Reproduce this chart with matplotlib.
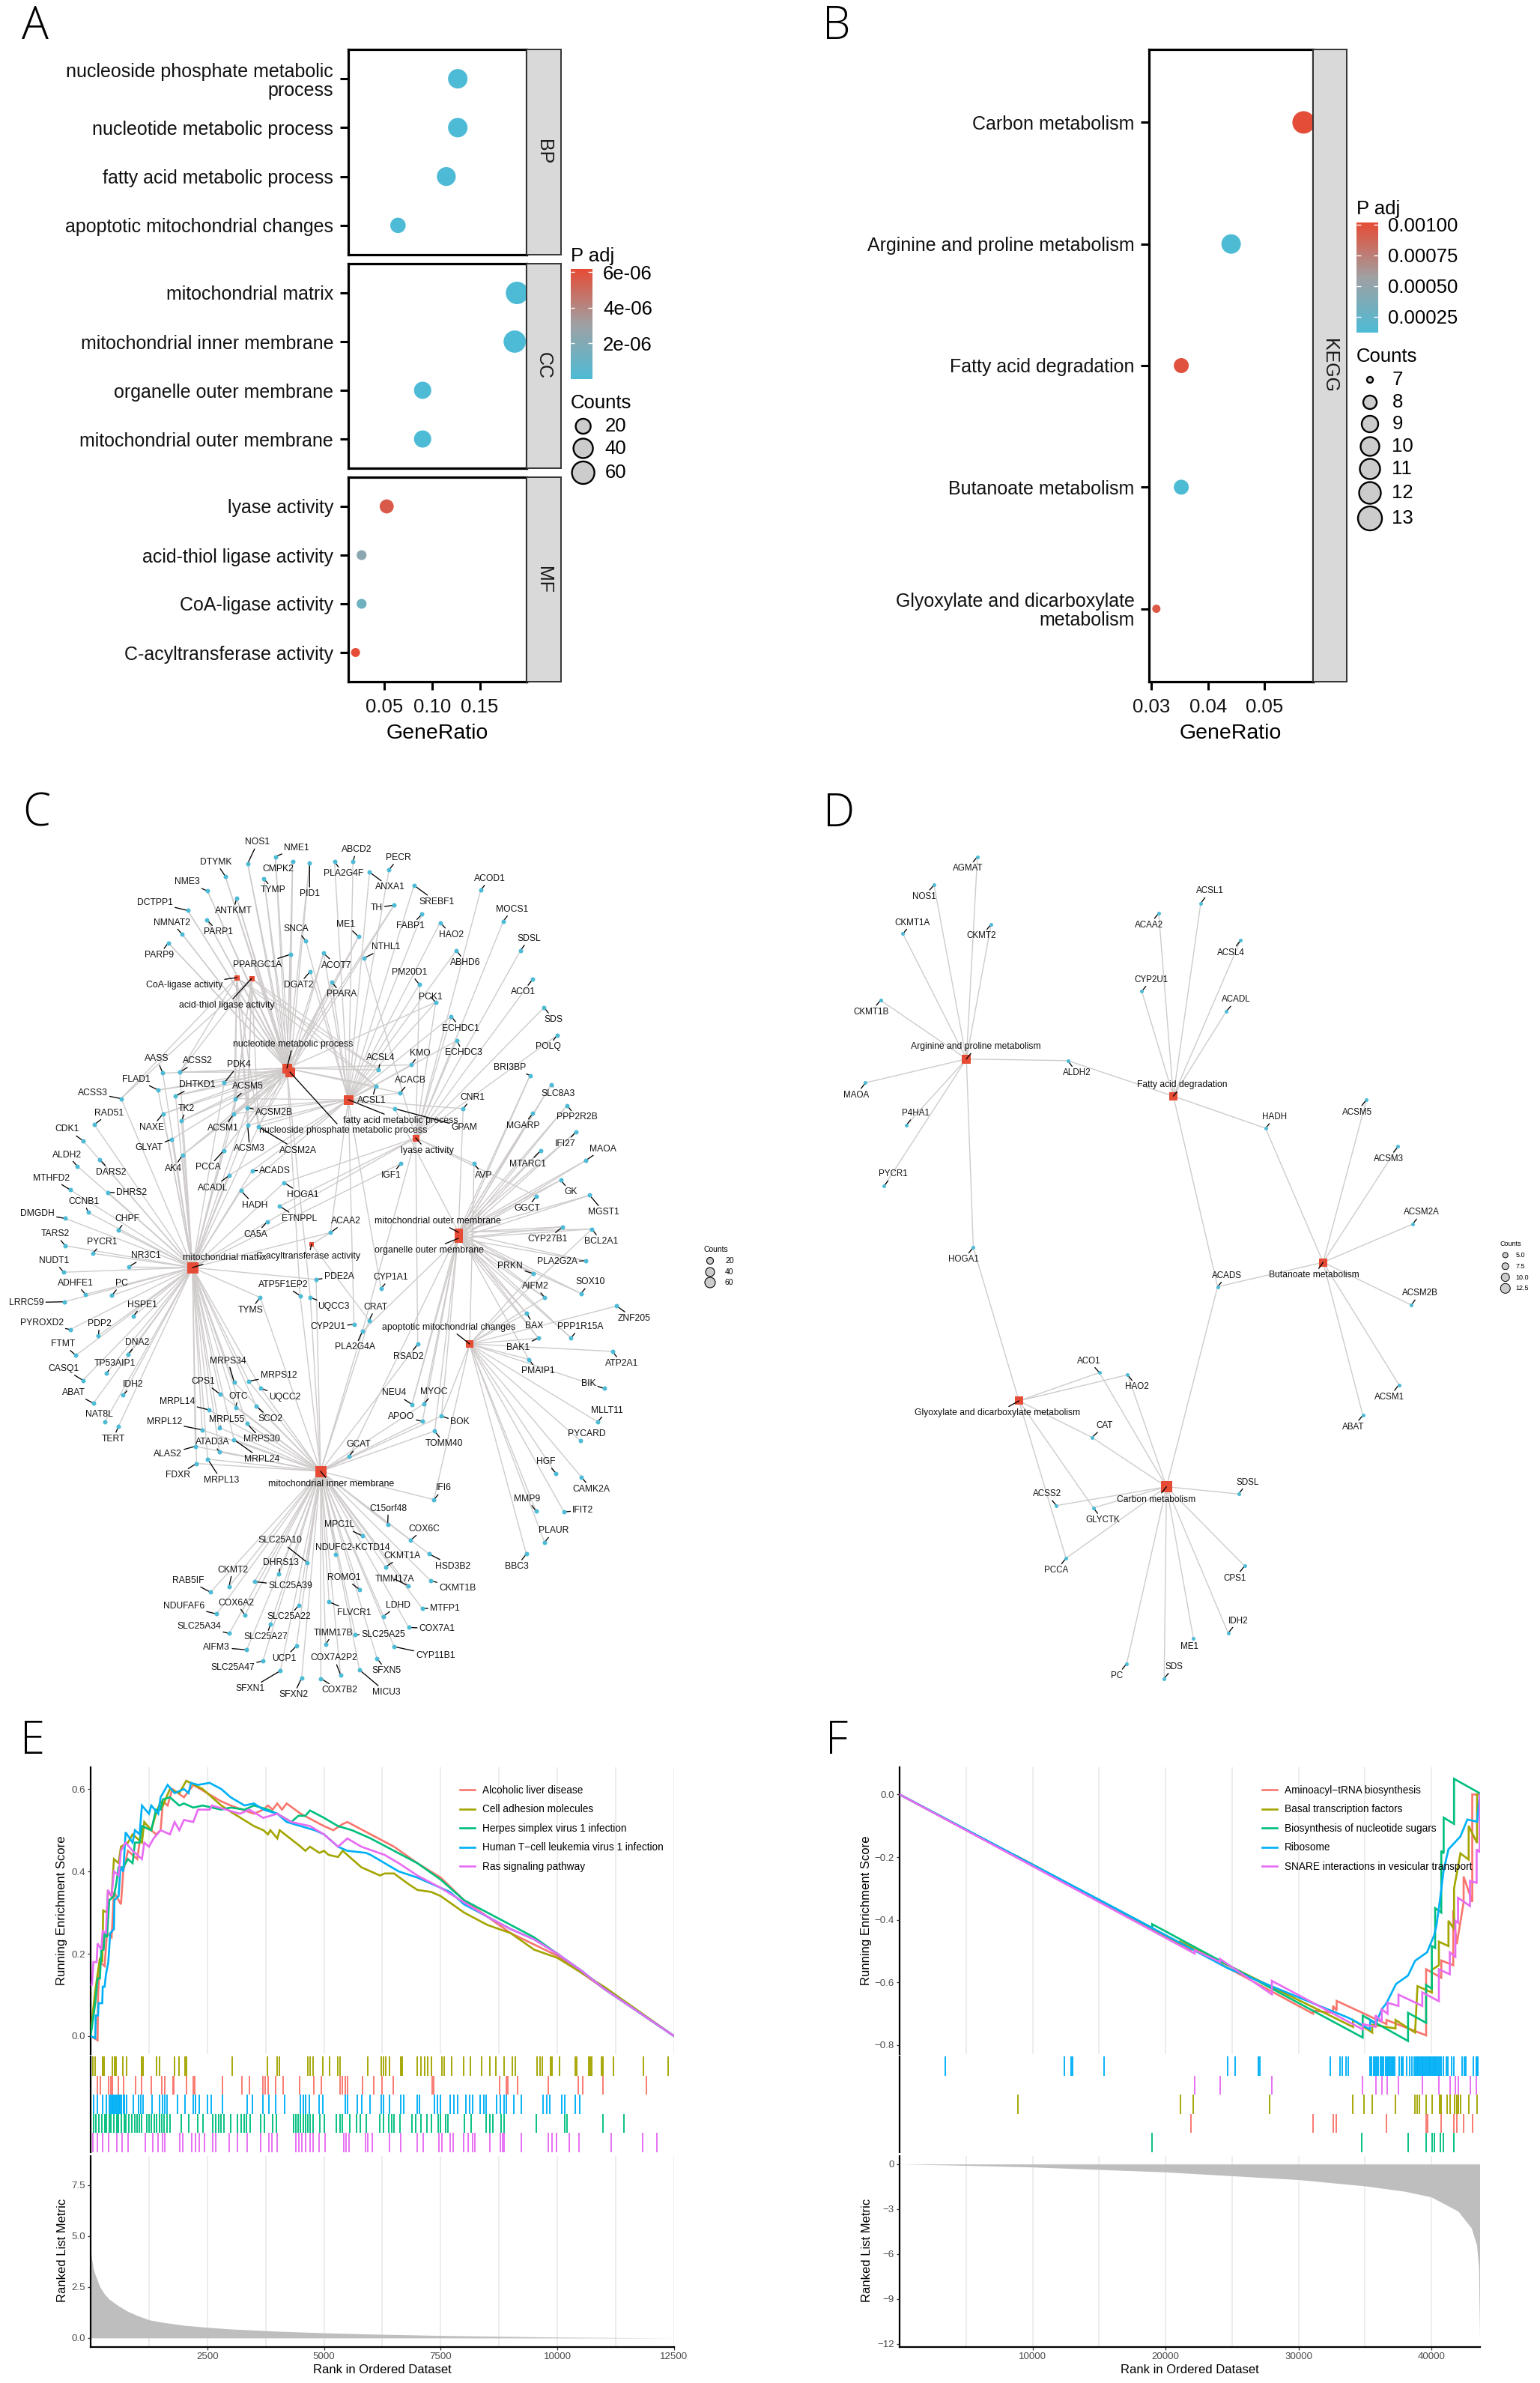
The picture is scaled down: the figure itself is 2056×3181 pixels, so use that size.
import numpy as np
import matplotlib
matplotlib.use('Agg')
import matplotlib.pyplot as plt
from matplotlib import font_manager
from matplotlib.cm import ScalarMappable
from matplotlib.collections import LineCollection
from matplotlib.colors import LinearSegmentedColormap, Normalize

plt.rcParams['font.family'] = ['Liberation Sans', 'DejaVu Sans']

W, H = 2056, 3181
BLUE, RED = '#4DBBD5', '#E64B35'
EDGE = '#CFCBCB'

# ---- A: GO dot plot
a_bp = ['nucleoside phosphate metabolic\nprocess', 'nucleotide metabolic process',
        'fatty acid metabolic process', 'apoptotic mitochondrial changes']
a_bp_ratio = [0.127, 0.127, 0.115, 0.0644]
a_bp_count = [43, 43, 39, 22]
a_bp_p = [1e-8, 1e-8, 1e-8, 1e-8]
a_cc = ['mitochondrial matrix', 'mitochondrial inner membrane',
        'organelle outer membrane', 'mitochondrial outer membrane']
a_cc_ratio = [0.189, 0.1866, 0.0902, 0.0902]
a_cc_count = [65, 64, 31, 31]
a_cc_p = [1e-8, 1e-8, 1e-8, 1e-8]
a_mf = ['lyase activity', 'acid-thiol ligase activity', 'CoA-ligase activity', 'C-acyltransferase activity']
a_mf_ratio = [0.0526, 0.0263, 0.0263, 0.020]
a_mf_count = [18, 9, 9, 7]
a_mf_p = [5.6e-6, 2.3e-6, 1.3e-6, 6.1e-6]

# ---- B: KEGG dot plot
b_terms = ['Carbon metabolism', 'Arginine and proline metabolism', 'Fatty acid degradation',
           'Butanoate metabolism', 'Glyoxylate and dicarboxylate\nmetabolism']
b_ratio = [0.0569, 0.0441, 0.0353, 0.0353, 0.0309]
b_count = [13, 10, 8, 8, 7]
b_p = [0.00100, 0.00013, 0.00098, 0.00013, 0.00095]

# ---- C: network, node and label places read off crops of the picture
# (name, x, y, label x, label y, terms)
ALLCOA = 'nuc nsp fa coa thi mm'
c_tile_nw = [
    ('NOS1', 992, 190, 1032, 116, 'nuc nsp'), ('NME1', 1103, 166, 1188, 135, 'nuc nsp'),
    ('CMPK2', 1172, 183, 1113, 208, 'nuc nsp'), ('DTYMK', 902, 234, 865, 185, 'nuc nsp'),
    ('NME3', 831, 286, 749, 254, 'nuc nsp'), ('DCTPP1', 752, 354, 621, 326, 'nuc nsp'),
    ('NMNAT2', 730, 437, 688, 396, 'nuc nsp'), ('PARP9', 674, 467, 637, 509, 'nuc nsp'),
    ('PARP1', 828, 386, 875, 429, 'nuc nsp'), ('TYMP', 1057, 243, 1095, 283, 'nuc nsp'),
    ('ANTKMT', 948, 310, 935, 355, 'nuc nsp'), ('PID1', 1240, 188, 1240, 295, 'nuc nsp'),
    ('ABCD2', 1414, 182, 1428, 142, 'fa'), ('PLA2G4F', 1340, 184, 1375, 225, 'fa'),
    ('SNCA', 1225, 460, 1187, 419, 'fa'), ('PPARGC1A', 1163, 507, 1032, 544, 'nuc nsp'),
    ('ME1', 1436, 445, 1385, 402, 'nuc nsp'), ('ACOT7', 1296, 503, 1348, 545, 'nuc nsp fa'),
    ('DGAT2', 1243, 566, 1195, 614, 'fa'), ('PPARA', 1329, 604, 1369, 646, 'nuc nsp fa'),
    ('AASS', 652, 921, 628, 871, 'nuc mm'), ('ACSS2', 720, 918, 791, 878, 'nuc nsp coa thi mm'),
    ('FLAD1', 633, 980, 545, 942, 'nuc nsp mm'), ('DHTKD1', 703, 1000, 791, 962, 'nuc nsp mm'),
    ('PDK4', 898, 955, 956, 892, 'nuc mm'), ('ACSS3', 485, 1010, 371, 990, 'coa thi mm'),
    ('ACSM5', 943, 1010, 994, 968, ALLCOA), ('ACSM2B', 991, 1042, 1099, 1059, ALLCOA),
    ('ACSM1', 937, 1063, 895, 1114, ALLCOA), ('ACSM3', 992, 1103, 1000, 1184, ALLCOA),
    ('ACSM2A', 1035, 1108, 1193, 1191, ALLCOA), ('TK2', 727, 1088, 747, 1044, 'nuc nsp mm'),
    ('NAXE', 653, 1063, 608, 1110, 'nuc nsp mm'), ('GLYAT', 688, 1152, 597, 1182, 'nuc mm'),
    ('AK4', 731, 1207, 695, 1254, 'nuc nsp mm'), ('RAD51', 378, 1101, 437, 1060, 'mm'),
    ('CDK1', 334, 1158, 270, 1117, 'mm'), ('ALDH2', 310, 1246, 269, 1206, 'mm'),
    ('DARS2', 400, 1223, 446, 1266, 'mm'), ('MTHFD2', 281, 1328, 205, 1287, 'mm'),
    ('DHRS2', 433, 1337, 528, 1339, 'mm'), ('CCNB1', 353, 1407, 336, 1369, 'mm'),
    ('CHPF', 473, 1469, 510, 1429, 'mm'), ('DMGDH', 262, 1428, 150, 1411, 'mm'),
    ('TARS2', 261, 1523, 223, 1482, 'mm'), ('PYCR1', 372, 1550, 409, 1511, 'mm'),
    ('PCCA', 896, 1191, 835, 1250, 'nuc mm'), ('ACADL', 919, 1277, 853, 1321, 'fa mm'),
    ('ACADS', 1010, 1261, 1102, 1261, 'fa mm'), ('HADH', 965, 1331, 1020, 1382, 'fa mm'),
    ('HOGA1', 1138, 1303, 1212, 1345, 'ly mm'), ('ETNPPL', 1120, 1385, 1198, 1429, 'ly'),
    ('CA5A', 1070, 1440, 1025, 1483, 'ly mm'), ('ACAA2', 1324, 1477, 1387, 1437, 'ca mm fa'),
]
c_tile_ne = [
    ('PECR', 118, 212, 157, 170, 'fa'), ('ANXA1', 40, 220, 122, 273, 'fa'),
    ('TH', 139, 335, 68, 344, 'nuc nsp'), ('SREBF1', 218, 266, 308, 323, 'fa'),
    ('FABP1', 250, 367, 204, 408, 'fa'), ('HAO2', 323, 396, 368, 438, 'fa'),
    ('NTHL1', 18, 520, 106, 481, 'ly'), ('ACOD1', 485, 283, 522, 243, 'ly'),
    ('MOCS1', 576, 391, 612, 350, 'ly'), ('SDSL', 644, 494, 680, 452, 'ly'),
    ('ACO1', 694, 593, 655, 637, 'ly'), ('SDS', 739, 692, 777, 734, 'ly'),
    ('POLQ', 793, 788, 755, 829, 'ly'), ('ABHD6', 388, 493, 425, 536, 'fa'),
    ('PM20D1', 240, 612, 201, 570, 'fa ly'), ('PCK1', 305, 674, 285, 655, 'ly fa nuc'),
    ('ECHDC1', 367, 723, 405, 765, 'ly fa'), ('ECHDC3', 389, 808, 417, 850, 'ly fa'),
    ('ACSL4', 76, 910, 86, 868, 'nuc fa coa thi'), ('ACSL1', 65, 966, 48, 1017, 'nuc fa coa thi'),
    ('KMO', 207, 892, 243, 851, 'nuc fa'), ('ACACB', 162, 990, 205, 947, 'nuc fa'),
    ('CNR1', 415, 1045, 452, 1006, 'fa mom'), ('GPAM', 141, 1045, 420, 1110, 'fa mom'),
    ('IGF1', 166, 1236, 126, 1278, 'mm'), ('AVP', 459, 1237, 496, 1279, 'ly apo'),
    ('BRI3BP', 683, 929, 603, 901, 'mom oom'), ('SLC8A3', 768, 961, 795, 992, 'mom oom'),
    ('MGARP', 694, 1062, 655, 1104, 'mom oom'), ('PPP2R2B', 831, 1034, 870, 1075, 'mom oom'),
    ('IFI27', 866, 1127, 823, 1167, 'mom oom'), ('MTARC1', 726, 1191, 673, 1238, 'mom oom'),
    ('MAOA', 907, 1225, 975, 1185, 'mom oom'), ('GK', 806, 1294, 845, 1336, 'mom oom'),
    ('GGCT', 708, 1350, 671, 1393, 'ly'), ('MGST1', 922, 1347, 979, 1406, 'mom oom'),
    ('CYP27B1', 814, 1457, 752, 1500, 'mom oom'), ('BCL2A1', 931, 1465, 968, 1508, 'mom oom apo'),
]
c_tile_sw = [
    ('NUDT1', 255, 100, 216, 60, 'mm'), ('NR3C1', 515, 82, 586, 42, 'mm'),
    ('ADHFE1', 342, 177, 304, 138, 'mm'), ('PC', 448, 181, 487, 139, 'mm'),
    ('LRRC59', 258, 203, 106, 206, 'mm'), ('HSPE1', 533, 254, 571, 213, 'mm'),
    ('PYROXD2', 281, 300, 167, 278, 'mm'), ('PDP2', 394, 321, 399, 279, 'mm'),
    ('FTMT', 304, 390, 251, 350, 'mm'), ('DNA2', 512, 387, 551, 346, 'mm'),
    ('CASQ1', 332, 477, 256, 436, 'mm'), ('TP53AIP1', 425, 453, 459, 419, 'mm'),
    ('ABAT', 374, 557, 294, 520, 'mm'), ('IDH2', 493, 529, 532, 491, 'mm'),
    ('NAT8L', 420, 621, 397, 597, 'mm'), ('TERT', 475, 637, 453, 681, 'mm'),
    ('MRPS34', 938, 484, 913, 409, 'mm imm'), ('MRPS12', 996, 480, 1116, 461, 'mm imm'),
    ('UQCC2', 1045, 505, 1142, 536, 'mm imm'), ('CPS1', 881, 525, 815, 481, 'mm imm'),
    ('OTC', 944, 571, 955, 532, 'mm imm'), ('MRPL14', 836, 580, 711, 552, 'mm imm'),
    ('SCO2', 1027, 568, 1084, 611, 'mm imm'), ('MRPL55', 878, 642, 908, 613, 'mm imm'),
    ('MRPS30', 989, 628, 1048, 683, 'mm imm'), ('MRPL12', 810, 650, 658, 623, 'mm imm'),
    ('ATAD3A', 879, 727, 851, 693, 'mm imm'), ('MRPL24', 937, 684, 1048, 752, 'mm imm'),
    ('ALAS2', 782, 707, 672, 734, 'mm imm'), ('FDXR', 787, 767, 712, 808, 'mm imm'),
    ('MRPL13', 832, 752, 886, 825, 'mm imm'), ('TYMS', 1042, 188, 1003, 232, 'mm imm'),
    ('ATP5F1EP2', 1202, 182, 1135, 143, 'imm nuc'), ('PDE2A', 1266, 125, 1358, 116, 'mm imm'),
    ('UQCC3', 1243, 188, 1336, 220, 'imm nuc'), ('CYP2U1', 1418, 282, 1313, 291, 'fa'),
    ('PLA2G4A', 1451, 307, 1423, 361, 'ly imm oom'), ('GCAT', 1399, 741, 1436, 701, 'imm mom'),
    ('MPC1L', 1452, 1020, 1361, 981, 'imm'), ('SLC25A10', 1230, 1112, 1120, 1036, 'imm'),
    ('NDUFC2-KCTD14', 1345, 1085, 1413, 1062, 'imm'), ('DHRS13', 1117, 1153, 1124, 1112, 'imm'),
    ('CKMT2', 917, 1197, 932, 1138, 'imm'), ('RAB5IF', 843, 1216, 754, 1175, 'imm'),
    ('SLC25A39', 1019, 1179, 1164, 1194, 'imm'), ('ROMO1', 1439, 1206, 1377, 1165, 'imm'),
    ('COX6A2', 981, 1296, 946, 1253, 'imm'), ('NDUFAF6', 868, 1292, 736, 1264, 'imm'),
    ('SLC25A22', 1196, 1262, 1158, 1302, 'imm'), ('FLVCR1', 1318, 1250, 1418, 1287, 'imm'),
    ('SLC25A34', 918, 1360, 797, 1334, 'imm'), ('SLC25A27', 1084, 1327, 1065, 1372, 'imm'),
    ('TIMM17B', 1304, 1398, 1335, 1358, 'imm'), ('SLC25A25', 1423, 1364, 1535, 1365, 'imm'),
    ('AIFM3', 988, 1417, 868, 1408, 'imm'), ('UCP1', 1187, 1404, 1138, 1447, 'imm'),
    ('SLC25A47', 1053, 1456, 932, 1480, 'imm'), ('COX7A2P2', 1364, 1504, 1338, 1446, 'imm'),
    ('SFXN1', 1123, 1490, 1002, 1553, 'imm'), ('SFXN2', 1208, 1515, 1177, 1573, 'imm'),
    ('COX7B2', 1285, 1517, 1360, 1558, 'imm'), ('MICU3', 1440, 1487, 1546, 1565, 'imm'),
]
c_tile_se = [
    ('CYP1A1', 86, 157, 124, 118, 'fa'), ('CRAT', 38, 268, 65, 222, 'ca imm'),
    ('RSAD2', 233, 351, 195, 394, 'ly imm'), ('PRKN', 695, 105, 604, 78, 'mom oom apo'),
    ('PLA2G2A', 905, 60, 791, 64, 'mom oom'), ('AIFM2', 741, 188, 705, 149, 'mom oom apo'),
    ('SOX10', 887, 174, 925, 134, 'mom oom'), ('ZNF205', 1030, 218, 1099, 261, 'apo'),
    ('BAX', 669, 243, 699, 287, 'mom oom apo'), ('PPP1R15A', 847, 329, 884, 290, 'mom oom'),
    ('BAK1', 716, 330, 636, 362, 'mom oom apo'), ('ATP2A1', 1013, 376, 1050, 418, 'apo'),
    ('PMAIP1', 678, 404, 715, 445, 'apo mom'), ('BIK', 980, 505, 917, 489, 'apo'),
    ('MLLT11', 954, 622, 992, 582, 'apo'), ('PYCARD', 885, 688, 909, 663, 'apo'),
    ('HGF', 786, 801, 747, 761, 'apo'), ('CAMK2A', 889, 815, 929, 856, 'apo'),
    ('MMP9', 707, 933, 670, 891, 'apo'), ('IFIT2', 819, 936, 895, 930, 'apo'),
    ('PLAUR', 741, 1042, 779, 1002, 'apo'), ('BBC3', 668, 1083, 629, 1126, 'apo'),
    ('NEU4', 210, 561, 139, 521, 'mom oom'), ('MYOC', 258, 559, 299, 518, 'mom imm'),
    ('APOO', 252, 620, 166, 604, 'mom imm'), ('BOK', 328, 602, 402, 623, 'mom imm apo'),
    ('TOMM40', 301, 654, 340, 698, 'mom imm'), ('IFI6', 298, 893, 337, 853, 'imm apo'),
    ('C15orf48', 113, 979, 115, 924, 'imm'), ('COX6C', 204, 1035, 258, 995, 'imm'),
    ('HSD3B2', 279, 1083, 373, 1125, 'imm'), ('CKMT1A', 104, 1128, 172, 1089, 'imm'),
    ('CKMT1B', 285, 1176, 392, 1201, 'imm'), ('TIMM17A', 194, 1193, 142, 1171, 'imm'),
    ('MTFP1', 251, 1273, 342, 1272, 'imm'), ('LDHD', 96, 1300, 155, 1261, 'imm'),
    ('COX7A1', 197, 1339, 311, 1343, 'imm'), ('CYP11B1', 139, 1406, 304, 1437, 'imm'),
    ('SFXN5', 70, 1447, 108, 1490, 'imm'),
]
# key: (name, x, y, label x, label y, square side)
c_hubs = {
    'coa': ('CoA-ligase activity', 316, 1305, 246, 1315, 7),
    'thi': ('acid-thiol ligase activity', 336, 1306, 303, 1342, 7),
    'nuc': ('nucleotide metabolic process', 383, 1426, 391, 1394, 13),
    'nsp': ('nucleoside phosphate metabolic process', 387, 1431, 458, 1509, 13),
    'fa': ('fatty acid metabolic process', 465, 1468, 535, 1496, 13),
    'ly': ('lyase activity', 555, 1519, 570, 1536, 9),
    'mom': ('mitochondrial outer membrane', 612, 1645, 584, 1630, 11),
    'oom': ('organelle outer membrane', 612, 1653, 573, 1669, 11),
    'ca': ('C-acyltransferase activity', 416, 1661, 412, 1677, 6),
    'mm': ('mitochondrial matrix', 257, 1692, 300, 1679, 15),
    'imm': ('mitochondrial inner membrane', 428, 1964, 442, 1981, 15),
    'apo': ('apoptotic mitochondrial changes', 627, 1794, 599, 1772, 10),
}
c_legend = [20, 40, 60]

# ---- D: network
d_genes = [
    ('AGMAT', 336, 59, 315, 80, 'arg'), ('NOS1', 241, 110, 219, 131, 'arg'),
    ('CKMT1A', 173, 198, 193, 178, 'arg'), ('CKMT2', 366, 181, 345, 202, 'arg'),
    ('CKMT1B', 124, 318, 103, 339, 'arg'), ('MAOA', 91, 467, 70, 489, 'arg'),
    ('P4HA1', 181, 543, 201, 522, 'arg'), ('PYCR1', 132, 653, 151, 632, 'arg'),
    ('ALDH2', 534, 427, 554, 449, 'arg fat'), ('HOGA1', 327, 764, 306, 786, 'arg gly'),
    ('ACAA2', 733, 161, 712, 182, 'fat'), ('ACSL1', 825, 143, 845, 121, 'fat'),
    ('ACSL4', 912, 210, 892, 232, 'fat'), ('CYP2U1', 696, 302, 716, 281, 'fat'),
    ('ACADL', 881, 338, 903, 317, 'fat'), ('HADH', 967, 549, 987, 529, 'fat but'),
    ('ACADS', 862, 835, 882, 815, 'fat but car'), ('ACSM5', 1188, 497, 1167, 520, 'but'),
    ('ACSM3', 1257, 582, 1236, 604, 'but'), ('ACSM2A', 1289, 722, 1309, 701, 'but'),
    ('ACSM2B', 1286, 868, 1305, 847, 'but'), ('ACSM1', 1259, 1012, 1238, 1034, 'but'),
    ('ABAT', 1180, 1067, 1159, 1088, 'but'), ('ACO1', 603, 990, 581, 969, 'gly car'),
    ('HAO2', 665, 994, 686, 1016, 'gly car'), ('CAT', 587, 1107, 614, 1086, 'gly car'),
    ('ACSS2', 509, 1230, 488, 1209, 'car'), ('GLYCTK', 590, 1234, 610, 1256, 'gly car'),
    ('PCCA', 530, 1325, 509, 1347, 'gly car'), ('SDSL', 908, 1209, 928, 1188, 'car'),
    ('CPS1', 921, 1339, 900, 1361, 'car'), ('IDH2', 885, 1460, 907, 1438, 'car'),
    ('ME1', 809, 1470, 801, 1484, 'car'), ('SDS', 745, 1542, 766, 1521, 'car'),
    ('PC', 663, 1515, 642, 1537, 'car'),
]
d_hubs = {
    'arg': ('Arginine and proline metabolism', 312, 424, 333, 402, 12),
    'fat': ('Fatty acid degradation', 765, 491, 785, 471, 11),
    'but': ('Butanoate metabolism', 1093, 791, 1073, 814, 11),
    'gly': ('Glyoxylate and dicarboxylate metabolism', 427, 1041, 379, 1063, 11),
    'car': ('Carbon metabolism', 750, 1196, 728, 1219, 15),
}
d_legend = ['5.0', '7.5', '10.0', '12.5']

# ---- E: GSEA up
e_names = ['Alcoholic liver disease', 'Cell adhesion molecules', 'Herpes simplex virus 1 infection',
           'Human T\u2212cell leukemia virus 1 infection', 'Ras signaling pathway']
e_alc_x = [1, 150, 160, 200, 300, 350, 450, 500, 650, 700, 800, 1000, 1050, 1100, 1300, 1400, 1500, 1550, 1650, 1750, 2000, 2200, 2500, 2800, 3000, 3500, 3700, 3800, 3900, 4000, 4100, 4200, 4500, 5000, 5200, 5400, 5500, 6000, 6500, 7000, 7500, 8000, 8500, 9000, 10000, 10500, 11000, 12500]
e_alc_y = [0, -.01, .10, .18, .17, .25, .24, .35, .32, .40, .45, .43, .47, .51, .50, .49, .50, .57, .56, .60, .58, .61, .59, .57, .56, .54, .55, .56, .55, .565, .55, .565, .54, .51, .50, .515, .52, .49, .46, .42, .385, .33, .29, .25, .195, .155, .115, 0]
e_cam_x = [1, 50, 100, 200, 250, 270, 350, 370, 450, 500, 600, 650, 800, 900, 1100, 1150, 1300, 1400, 1500, 1550, 1700, 1900, 2050, 2400, 2800, 3000, 3500, 3700, 3800, 3850, 4000, 4050, 4500, 4600, 4700, 4900, 5000, 5100, 5300, 5400, 5800, 6000, 6200, 6300, 6500, 6800, 7000, 7300, 7500, 8000, 8500, 9000, 9500, 10000, 10500, 11000, 12500]
e_cam_y = [0, .06, .11, .19, .18, .305, .30, .35, .34, .43, .42, .46, .47, .49, .47, .52, .50, .54, .57, .56, .60, .59, .62, .60, .56, .545, .51, .50, .49, .50, .48, .50, .46, .45, .46, .445, .45, .44, .435, .45, .41, .40, .39, .395, .395, .37, .355, .35, .34, .30, .27, .25, .21, .19, .155, .12, 0]
e_hsv_x = [1, 100, 150, 200, 230, 280, 300, 350, 400, 500, 550, 600, 700, 800, 900, 950, 1050, 1100, 1300, 1400, 1500, 1550, 1700, 1900, 2000, 2200, 2400, 2800, 3000, 3300, 3500, 3800, 4000, 4300, 4450, 4600, 4700, 5000, 5300, 5600, 6000, 6500, 7000, 7500, 8000, 8500, 9000, 9500, 10000, 10500, 11000, 12500]
e_hsv_y = [0, .08, .14, .14, .21, .21, .25, .24, .33, .34, .37, .41, .41, .43, .42, .47, .47, .51, .50, .55, .55, .575, .58, .56, .565, .555, .56, .55, .555, .55, .56, .55, .54, .52, .535, .535, .548, .53, .51, .50, .48, .45, .42, .38, .33, .30, .27, .24, .20, .16, .115, 0]
e_htl_x = [1, 100, 110, 160, 170, 250, 260, 300, 330, 380, 420, 500, 510, 600, 640, 700, 750, 900, 950, 1050, 1100, 1250, 1300, 1450, 1500, 1650, 1800, 2000, 2100, 2150, 2300, 2550, 2800, 3000, 3300, 3500, 3700, 4000, 4200, 4500, 4800, 5000, 5300, 5500, 5900, 6000, 6300, 6600, 7000, 7300, 7700, 8000, 8500, 9000, 9500, 10000, 10500, 11000, 12500]
e_htl_y = [0, -.005, .05, .05, .08, .08, .12, .12, .15, .18, .25, .26, .33, .34, .41, .40, .495, .47, .50, .49, .56, .54, .56, .54, .58, .61, .59, .60, .59, .615, .61, .615, .60, .58, .56, .565, .55, .54, .52, .51, .50, .49, .46, .45, .445, .44, .42, .40, .385, .37, .35, .32, .29, .26, .235, .20, .16, .115, 0]
e_ras_x = [1, 30, 60, 130, 150, 230, 260, 330, 370, 450, 500, 600, 650, 750, 900, 1000, 1100, 1150, 1250, 1350, 1500, 1700, 1800, 1900, 2000, 2200, 2300, 2550, 2600, 2900, 3200, 3400, 3700, 4000, 4300, 4700, 5000, 5300, 5500, 5800, 6300, 6600, 7000, 7500, 8000, 8500, 9000, 9500, 10000, 10500, 11000, 12500]
e_ras_y = [.125, .125, .18, .18, .225, .21, .255, .25, .355, .34, .40, .39, .45, .47, .45, .44, .43, .47, .46, .48, .50, .49, .52, .50, .525, .52, .55, .55, .56, .55, .54, .55, .53, .54, .52, .51, .49, .46, .48, .46, .44, .42, .39, .36, .325, .29, .26, .235, .20, .16, .115, 0]

e_rug_cam = [50, 100, 260, 290, 460, 510, 540, 690, 770, 1100, 1130, 1420, 1480, 1800, 1890, 2020, 2050, 3040, 3790, 4000, 4050, 4660, 4710, 4760, 4970, 5120, 5300, 5350, 5940, 6220, 6280, 6330, 6400, 6640, 6680, 6990, 7080, 7160, 7220, 7300, 7530, 7580, 7730, 7990, 8140, 8370, 8550, 8680, 8860, 9040, 9100, 9570, 9620, 9680, 9850, 9880, 10050, 10390, 10410, 10670, 10710, 10730, 10940, 10980, 11200, 11850, 12370]
e_rug_alc = [150, 210, 390, 430, 470, 590, 700, 970, 1090, 1300, 1530, 1590, 1760, 1790, 2050, 2200, 2230, 2820, 3250, 3400, 3690, 3740, 3810, 3960, 4120, 4470, 4790, 4940, 5350, 5390, 5450, 5500, 5820, 6060, 6250, 6490, 7320, 7350, 8760, 8910, 8940, 9140, 9800, 10440, 10550, 10980, 11900]
e_rug_htl = [70, 150, 260, 330, 410, 430, 460, 480, 510, 530, 560, 580, 610, 630, 660, 700, 730, 770, 920, 1020, 1080, 1130, 1310, 1480, 1540, 1590, 1640, 1860, 2020, 2200, 2250, 2330, 2510, 2590, 2820, 3350, 3460, 3690, 3820, 3970, 4150, 4490, 4560, 4610, 4680, 4890, 4970, 5450, 5510, 5710, 5810, 5990, 6220, 6280, 6400, 6640, 6710, 6990, 7040, 7370, 7430, 7500, 7710, 7780, 7860, 8040, 8120, 8190, 8350, 8420, 8480, 8700, 8780, 8860, 8910, 9060, 9220, 9700, 9780, 9830, 10090, 10160, 10390, 10480]
e_rug_hsv = [60, 120, 180, 240, 300, 340, 400, 440, 500, 560, 600, 660, 720, 760, 820, 880, 950, 1000, 1040, 1090, 1200, 1250, 1300, 1360, 1420, 1480, 1520, 1570, 1640, 1700, 1950, 2100, 2300, 2400, 2620, 2680, 2740, 2790, 2850, 3000, 3150, 3230, 3290, 3340, 3420, 3640, 3720, 3900, 3980, 4350, 4400, 4450, 4500, 4550, 4600, 4650, 4700, 4760, 4910, 5000, 5270, 5340, 5400, 5550, 5700, 5780, 5900, 6200, 6280, 6380, 6450, 6500, 6620, 6880, 6970, 7080, 7200, 7300, 7450, 7500, 7600, 7650, 8000, 8150, 8480, 8550, 8620, 8800, 8850, 9550, 10150, 10200, 10980, 11420]
e_rug_ras = [50, 150, 260, 390, 560, 670, 800, 1180, 1330, 1450, 1540, 1590, 1910, 1970, 2170, 2250, 2320, 2440, 2610, 2680, 2970, 3140, 3360, 3650, 3820, 3890, 3990, 4400, 4460, 4530, 4610, 4710, 4760, 4890, 5020, 5430, 5480, 5530, 5890, 5940, 6040, 6400, 6640, 6990, 7120, 7460, 7530, 7710, 7760, 7990, 8090, 8190, 8240, 8550, 8780, 8830, 8860, 9220, 9800, 9880, 9980, 10260, 10460, 11160, 11830, 12130]
e_metric_x = [1, 30, 60, 100, 200, 300, 400, 600, 800, 1000, 1250, 1500, 2000, 2500, 3000, 4000, 5000, 6000, 7500, 8500, 10000, 11250, 12500]
e_metric_y = [4.3, 3.8, 3.4, 3.1, 2.5, 2.15, 1.9, 1.57, 1.3, 1.1, .89, .78, .62, .52, .44, .33, .25, .19, .12, .09, .04, .02, 0]

# ---- F: GSEA down
f_names = ['Aminoacyl\u2212tRNA biosynthesis', 'Basal transcription factors', 'Biosynthesis of nucleotide sugars',
           'Ribosome', 'SNARE interactions in vesicular transport']
f_ami_x = [1, 21900, 21900, 31100, 31100, 32600, 32600, 32870, 32870, 36620, 36620, 39600, 39600, 40740, 40740, 41640, 41640, 41900, 42420, 42420, 43070, 43070, 43630]
f_ami_y = [0, -.497, -.49, -.70, -.69, -.697, -.675, -.69, -.659, -.733, -.72, -.769, -.558, -.585, -.53, -.545, -.37, -.478, -.345, -.262, -.343, 0, 0]
f_bas_x = [1, 8880, 8880, 21100, 21100, 34100, 34100, 35550, 35550, 37300, 37300, 38770, 38950, 40030, 40030, 40560, 40560, 41280, 41280, 41700, 41700, 42180, 42800, 42800, 43430, 43430, 43630]
f_bas_y = [0, -.201, -.198, -.478, -.47, -.742, -.72, -.76, -.735, -.747, -.72, -.76, -.612, -.632, -.56, -.545, -.47, -.484, -.403, -.43, -.30, -.188, -.208, -.10, -.155, 0, 0]
f_bio_x = [1, 19000, 19000, 34830, 34830, 38240, 38240, 39600, 39600, 40030, 40030, 40280, 40280, 40740, 40740, 40920, 40920, 41700, 41700, 43630]
f_bio_y = [0, -.426, -.414, -.776, -.706, -.787, -.697, -.729, -.608, -.62, -.484, -.49, -.363, -.377, -.18, -.188, -.074, -.094, .05, .004]
f_rib_x = [1, 15400, 24700, 33760, 34830, 35370, 35400, 35800, 36260, 36620, 37340, 38240, 38770, 39670, 40200, 40380, 40560, 40920, 41280, 42180, 42700, 43430, 43630]
f_rib_y = [0, -.345, -.555, -.713, -.737, -.75, -.72, -.733, -.686, -.666, -.605, -.578, -.531, -.504, -.45, -.417, -.363, -.242, -.175, -.134, -.08, -.087, 0]
f_sna_x = [1, 22200, 22200, 24100, 24100, 28000, 28000, 34830, 34830, 35800, 35800, 36260, 36260, 36700, 36700, 37520, 37520, 39310, 39310, 40560, 40560, 41380, 41380, 41800, 41800, 42000, 42000, 42900, 42900, 43400, 43400, 43630, 43630]
f_sna_y = [0, -.508, -.497, -.535, -.525, -.638, -.595, -.75, -.733, -.742, -.705, -.726, -.686, -.70, -.665, -.675, -.639, -.675, -.632, -.66, -.558, -.574, -.504, -.518, -.403, -.41, -.33, -.356, -.276, -.282, -.175, -.185, 0]

f_rug_rib = [3440, 12390, 12890, 13000, 15400, 24700, 25240, 26960, 27070, 32400, 33120, 33300, 33580, 33760, 35400, 35500, 35650, 35750, 35900, 36000, 36150, 36300, 36400, 36550, 36650, 36750, 36850, 36950, 37050, 37100, 37250, 37600, 37750, 37850, 38150, 38350, 38550, 38700, 38800, 38900, 39000, 39100, 39200, 39300, 39400, 39500, 39600, 39700, 39800, 39900, 40000, 40100, 40200, 40300, 40400, 40500, 40600, 40750, 40900, 41100, 41250, 41500, 41700, 42300, 42500, 42600, 43150, 43350, 43400, 43450, 43500]
f_rug_sna = [22200, 24100, 28000, 34830, 35800, 36260, 36700, 37520, 39310, 40560, 41380, 41800, 42000, 42900, 43400]
f_rug_bas = [8880, 21100, 22100, 27850, 34100, 34950, 35550, 37300, 38770, 38950, 39100, 39600, 40030, 40600, 40740, 41200, 41380, 41750, 41900, 42000, 42180, 42800, 43430]
f_rug_ami = [21900, 31100, 32600, 32870, 36620, 39600, 39740, 40740, 41670, 41900, 42420, 43070]
f_rug_bio = [19000, 34760, 38230, 39600, 40030, 40200, 40670, 40920, 41670]
f_metric_x = [1, 3000, 10000, 20000, 30000, 35000, 38000, 40000, 42000, 43000, 43400, 43550, 43600, 43630]
f_metric_y = [0, -.05, -.2, -.53, -1.04, -1.46, -1.82, -2.2, -3.14, -4.26, -5.4, -6.8, -9.9, -11.55]

GSEA_COL = {'red': '#F8766D', 'olive': '#A3A500', 'green': '#00BF7D', 'blue': '#00B0F6', 'pink': '#E76BF3'}
cmap = LinearSegmentedColormap.from_list('padj', [BLUE, '#9FA0A3', RED])

fig = plt.figure(figsize=(W / 100, H / 100), dpi=100, facecolor='white')


def ax_px(x0, y0, x1, y1):
    return fig.add_axes([x0 / W, 1 - y1 / H, (x1 - x0) / W, (y1 - y0) / H])


def pts(px):
    return (np.asarray(px, dtype=float) * 0.72) ** 2


def dot_panel(box, strip_right, labels, ratio, count, padj, xlim, norm, size_c, size_px, strip, ticks, ticklabels):
    ax = ax_px(*box)
    n = len(labels)
    y = np.arange(n, 0, -1)
    ax.scatter(ratio, y, s=pts(np.interp(count, size_c, size_px)), c=padj, cmap=cmap, norm=norm, linewidths=0, zorder=3)
    ax.set_xlim(*xlim)
    ax.set_ylim(0.4, n + 0.6)
    ax.set_yticks(y)
    ax.set_yticklabels(labels, fontsize=18, linespacing=1.05, color='#111111')
    ax.tick_params(axis='y', length=8, width=2.2, pad=6)
    ax.set_xticks(ticks if ticks else [])
    if ticks:
        ax.set_xticklabels(ticklabels, fontsize=18.5, color='#111111')
        ax.tick_params(axis='x', length=8, width=2.2, pad=8)
    else:
        ax.tick_params(axis='x', length=0)
    for s in ax.spines.values():
        s.set_linewidth(2.3)
    st = ax_px(box[2], box[1], strip_right, box[3])
    st.set_facecolor('#D9D9D9')
    st.set_xticks([])
    st.set_yticks([])
    for s in st.spines.values():
        s.set_linewidth(1.4)
        s.set_color('#333333')
    st.text(0.5, 0.5, strip, rotation=-90, ha='center', va='center', fontsize=18, color='#1a1a1a', transform=st.transAxes)
    return ax


def color_bar(box, vmin, vmax, ticks, labels, pad):
    cax = ax_px(*box)
    norm = Normalize(vmin, vmax)
    cb = fig.colorbar(ScalarMappable(norm=norm, cmap=cmap), cax=cax)
    cb.set_ticks(ticks, labels=labels)
    cb.outline.set_visible(False)
    cax.tick_params(length=0, pad=pad, labelsize=18.5)
    cax.hlines(ticks, 0, 0.2, color='white', lw=1)
    cax.hlines(ticks, 0.8, 1, color='white', lw=1)
    return norm


# page layer, in picture pixels, for legends and the two networks
page = fig.add_axes([0, 0, 1, 1], zorder=5)
page.set_xlim(0, W)
page.set_ylim(H, 0)
page.axis('off')
page.patch.set_alpha(0)

# ---------- A
norm_a = color_bar((761.5, 359, 791, 506), 0, 6.17e-6, [2e-6, 4e-6, 6e-6], ['2e-06', '4e-06', '6e-06'], 10)
a_c, a_s = [7, 20, 40, 60, 68], [12, 20, 25.5, 29, 30.5]
alim = (0.012, 0.199)
dot_panel((464.5, 66, 703, 340), 749, a_bp, a_bp_ratio, a_bp_count, a_bp_p, alim, norm_a, a_c, a_s, 'BP', None, None)
dot_panel((464.5, 352, 703, 625), 749, a_cc, a_cc_ratio, a_cc_count, a_cc_p, alim, norm_a, a_c, a_s, 'CC', None, None)
ax = dot_panel((464.5, 637, 703, 910), 749, a_mf, a_mf_ratio, a_mf_count, a_mf_p, alim, norm_a, a_c, a_s, 'MF',
               [0.05, 0.10, 0.15], ['0.05', '0.10', '0.15'])
ax.set_xlabel('GeneRatio', fontsize=20.5, labelpad=7)
page.text(762, 342, 'P adj', fontsize=18.5, va='center')
page.text(762, 538, 'Counts', fontsize=18.5, va='center')
page.scatter([778.6] * 3, [569, 598.5, 631], s=pts([20, 26, 30]), c='#CCCCCC', edgecolors='black', linewidths=1.7)
for yy, lab in zip([569, 598.5, 631], c_legend):
    page.text(807.5, yy, str(lab), fontsize=18.5, va='center')

# ---------- B
norm_b = color_bar((1811.4, 297, 1840, 444), 0.000122, 0.001016, [0.00025, 0.0005, 0.00075, 0.001],
                   ['0.00025', '0.00050', '0.00075', '0.00100'], 9)
b_c, b_s = [7, 8, 10, 13], [11, 20, 26, 30]
ax = dot_panel((1534, 66, 1752.5, 910), 1798, b_terms, b_ratio, b_count, b_p, (0.0296, 0.0585), norm_b, b_c, b_s, 'KEGG',
               [0.03, 0.04, 0.05], ['0.03', '0.04', '0.05'])
ax.set_xlabel('GeneRatio', fontsize=20.5, labelpad=7)
page.text(1811, 279, 'P adj', fontsize=18.5, va='center')
page.text(1811, 476, 'Counts', fontsize=18.5, va='center')
b_leg_y = [507, 537, 566, 596, 626, 658, 692]
page.scatter([1829] * 7, b_leg_y, s=pts([8, 18, 22, 25, 27, 29, 32]), c='#CCCCCC', edgecolors='black', linewidths=1.7)
for yy, lab in zip(b_leg_y, range(7, 14)):
    page.text(1858.5, yy, str(lab), fontsize=18.5, va='center')


# ---------- networks
def network(genes, hubs, gene_px, gene_fs, hub_fs):
    segs = []
    for g in genes:
        for t in g[5].split():
            segs.append([(g[1], g[2]), (hubs[t][1], hubs[t][2])])
    page.add_collection(LineCollection(segs, colors=EDGE, linewidths=1.0, zorder=1))
    page.scatter([h[1] for h in hubs.values()], [h[2] for h in hubs.values()],
                 s=pts([h[5] for h in hubs.values()]), marker='s', c=RED, linewidths=0, zorder=3)
    arrow = dict(arrowstyle='-', color='black', lw=0.95, shrinkA=0, shrinkB=0)
    for g in genes:
        page.annotate(g[0], xy=(g[1], g[2]), xytext=(g[3], g[4]), ha='center', va='center',
                      fontsize=gene_fs, color='#111111', arrowprops=arrow, zorder=4)
    for h in hubs.values():
        page.annotate(h[0], xy=(h[1], h[2]), xytext=(h[3], h[4]), ha='center', va='center',
                      fontsize=hub_fs, color='#111111', arrowprops=arrow, zorder=4)
    # dots go over the black leader lines
    page.scatter([g[1] for g in genes], [g[2] for g in genes], s=pts(gene_px), c=BLUE, linewidths=0, zorder=6)


def from_tile(rows, sx, sy, ox, oy):
    return [(r[0], ox + r[1] / sx, oy + r[2] / sy, ox + r[3] / sx, oy + r[4] / sy, r[5]) for r in rows]


c_genes = (from_tile(c_tile_nw, 3, 2.613, 0, 1080) + from_tile(c_tile_ne, 3, 2.613, 480, 1080)
           + from_tile(c_tile_sw, 3, 2.613, 0, 1660) + from_tile(c_tile_se, 3, 2.613, 480, 1660))
network(c_genes, c_hubs, 6, 8.7, 8.9)
page.text(956, 1668, 'Counts', fontsize=7.5, ha='center', va='center')
page.scatter([948] * 3, [1683, 1698, 1712], s=pts([9, 12, 14]), c='#CCCCCC', edgecolors='black', linewidths=0.8, zorder=3)
for yy, lab in zip([1683, 1698, 1712], c_legend):
    page.text(968, yy, str(lab), fontsize=7.5, va='center')

d_hub_px = {k: (v[0], 1100 + v[1] / 1.64, 1100 + v[2] / 1.352, 1100 + v[3] / 1.64, 1100 + v[4] / 1.352, v[5])
            for k, v in d_hubs.items()}
network(from_tile(d_genes, 1.64, 1.352, 1100, 1100), d_hub_px, 5, 8.4, 8.7)
page.text(1100 + 1504 / 1.64, 1100 + 758 / 1.352, 'Counts', fontsize=6.5, ha='center', va='center')
d_leg_y = [1100 + v / 1.352 for v in [778, 798, 818, 838]]
page.scatter([1100 + 1492 / 1.64] * 4, d_leg_y, s=pts([7, 9, 11, 13]), c='#CCCCCC', edgecolors='black', linewidths=0.7, zorder=3)
for yy, lab in zip(d_leg_y, d_legend):
    page.text(1100 + 1515 / 1.64, yy, lab, fontsize=6.5, va='center')


# ---------- GSEA
def style_axis(ax, bottom=False):
    for name in ['top', 'right']:
        ax.spines[name].set_visible(False)
    ax.spines['bottom'].set_visible(bottom)
    ax.spines['left'].set_linewidth(1.6)
    if bottom:
        ax.spines['bottom'].set_linewidth(1.6)
    ax.tick_params(axis='y', length=3, width=0.9, labelsize=9.6, labelcolor='#4D4D4D', color='#333333', pad=2)


def gsea(x0, x1, xlim, es_ylim, es_ticks, es_labels, curves, rugs, metric_x, metric_y, me_ylim, me_ticks, me_labels,
         xticks, xticklabels, grid, names, leg_x, label_x):
    top = ax_px(x0, 2359, x1, 2741.6)
    for (xs, ys, col) in curves:
        top.plot(xs, ys, color=col, lw=1.9, solid_joinstyle='miter', zorder=3)
    top.set_xlim(*xlim)
    top.set_ylim(*es_ylim)
    top.set_yticks(es_ticks)
    top.set_yticklabels(es_labels)
    top.set_xticks(grid)
    top.set_xticklabels([])
    top.tick_params(axis='x', length=0)
    top.grid(axis='x', color='#EDEDED', lw=1.4)
    top.set_axisbelow(True)
    style_axis(top)
    fig.text(label_x / W, 1 - 2550 / H, 'Running Enrichment Score', rotation=90, fontsize=12, ha='center', va='center')

    mid = ax_px(x0, 2745, x1, 2873)
    for i, (ranks, col) in enumerate(rugs):
        mid.vlines(ranks, i, i + 1, color=col, lw=1.35)
    mid.set_xlim(*xlim)
    mid.set_ylim(5, 0)
    mid.set_xticks([])
    mid.set_yticks([])
    style_axis(mid)

    low = ax_px(x0, 2877.5, x1, 3132.6)
    low.fill_between(metric_x, 0, metric_y, color='#BEBEBE', lw=0, zorder=2)
    low.set_xlim(*xlim)
    low.set_ylim(*me_ylim)
    low.set_yticks(me_ticks)
    low.set_yticklabels(me_labels)
    low.set_xticks(grid, minor=True)
    low.set_xticks(xticks)
    low.set_xticklabels(xticklabels)
    low.grid(axis='x', which='both', color='#EDEDED', lw=1.4)
    low.set_axisbelow(True)
    low.tick_params(axis='x', which='major', length=3, width=0.9, labelsize=9.6, labelcolor='#4D4D4D', color='#333333', pad=2)
    low.tick_params(axis='x', which='minor', length=0)
    style_axis(low, bottom=True)
    low.set_xlabel('Rank in Ordered Dataset', fontsize=12, labelpad=3)
    fig.text(label_x / W, 1 - 3004 / H, 'Ranked List Metric', rotation=90, fontsize=12, ha='center', va='center')

    handles = [plt.Line2D([], [], color=c[2], lw=1.9) for c in curves]
    top.legend(handles, names, loc='upper left', bbox_to_anchor=(leg_x / W, 1 - 2383 / H), bbox_transform=fig.transFigure,
               frameon=False, fontsize=9.8, labelspacing=0.84, handlelength=1.5, handletextpad=0.74,
               borderpad=0, borderaxespad=0)


c = GSEA_COL
gsea(121, 900, (1, 12500), (-0.043, 0.653), [0, .2, .4, .6], ['0.0', '0.2', '0.4', '0.6'],
     [(e_alc_x, e_alc_y, c['red']), (e_cam_x, e_cam_y, c['olive']), (e_hsv_x, e_hsv_y, c['green']),
      (e_htl_x, e_htl_y, c['blue']), (e_ras_x, e_ras_y, c['pink'])],
     [(e_rug_cam, c['olive']), (e_rug_alc, c['red']), (e_rug_htl, c['blue']), (e_rug_hsv, c['green']), (e_rug_ras, c['pink'])],
     e_metric_x, e_metric_y, (-0.43, 8.94), [0, 2.5, 5, 7.5], ['0.0', '2.5', '5.0', '7.5'],
     [2500, 5000, 7500, 10000, 12500], ['2500', '5000', '7500', '10000', '12500'],
     list(range(1250, 12501, 1250)), e_names, 614, 83)

gsea(1201, 1975.5, (1, 43630), (-0.828, 0.087), [-.8, -.6, -.4, -.2, 0],
     ['\u22120.8', '\u22120.6', '\u22120.4', '\u22120.2', '0.0'],
     [(f_ami_x, f_ami_y, c['red']), (f_bas_x, f_bas_y, c['olive']), (f_bio_x, f_bio_y, c['green']),
      (f_rib_x, f_rib_y, c['blue']), (f_sna_x, f_sna_y, c['pink'])],
     [(f_rug_rib, c['blue']), (f_rug_sna, c['pink']), (f_rug_bas, c['olive']), (f_rug_ami, c['red']), (f_rug_bio, c['green'])],
     f_metric_x, f_metric_y, (-12.18, 0.56), [-12, -9, -6, -3, 0], ['\u221212', '\u22129', '\u22126', '\u22123', '0'],
     [10000, 20000, 30000, 40000], ['10000', '20000', '30000', '40000'],
     list(range(5000, 40001, 5000)), f_names, 1684.5, 1157)

# panel letters: light face, from whichever installed family has one
letter_font = 'Noto Sans'
letter_weight = 'normal'
for fam in ['Noto Sans', 'Open Sans', 'Roboto', 'Lato', 'Inter']:
    found = [f for f in font_manager.fontManager.ttflist if f.name == fam and f.style == 'normal' and f.weight == 300]
    if found:
        letter_font, letter_weight = fam, 300
        break
for letter, lx, ly in [('A', 47, 36), ('B', 1117, 36), ('C', 49, 1087), ('D', 1120, 1087), ('E', 43, 2325), ('F', 1117, 2325)]:
    page.text(lx, ly, letter, fontsize=43, fontweight=letter_weight, family=[letter_font, 'DejaVu Sans'],
              ha='center', va='center', color='black')

fig.savefig('out.png', dpi=100)
